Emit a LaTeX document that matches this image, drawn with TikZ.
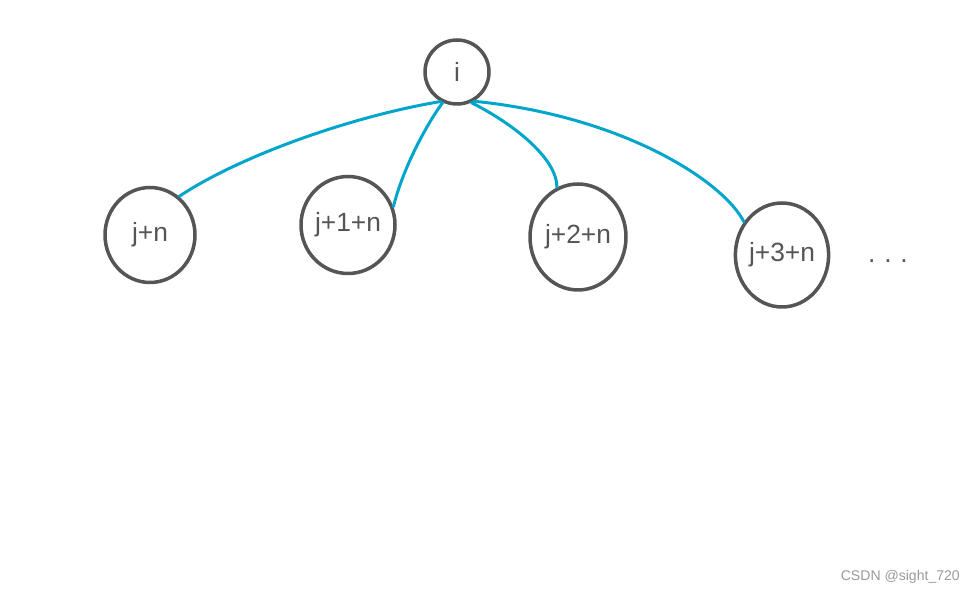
\documentclass[tikz,border=0pt]{standalone}
\usepackage{fontspec}
\setmainfont{Liberation Sans}
\usetikzlibrary{shapes.geometric}
\definecolor{ink}{HTML}{555555}
\definecolor{wire}{HTML}{00A5CC}
\definecolor{wmark}{HTML}{9A9A9A}
\tikzset{
  bubble/.style={ellipse, draw=ink, line width=2pt, inner sep=0pt, text=ink,
    font=\fontsize{15}{18}\selectfont},
  link/.style={draw=wire, line width=1.7pt, line cap=round},
}
\begin{document}
\begin{tikzpicture}[x=0.02cm,y=-0.02cm]
\useasboundingbox (0,0) rectangle (980,594);
\node[bubble, minimum width=1.28cm, minimum height=1.28cm] (i) at (457,72) {i};
\node[bubble, minimum width=1.80cm, minimum height=1.90cm] (jn) at (150,235) {j+n};
\node[bubble, minimum width=1.88cm, minimum height=1.94cm] (j1n) at (348,225) {j+1+n};
\node[bubble, minimum width=1.92cm, minimum height=2.12cm] (j2n) at (578,237) {j+2+n};
\node[bubble, minimum width=1.76cm, minimum height=2.08cm] (j3n) at (782,255) {j+3+n};
\node[text=ink, font=\fontsize{15}{18}\selectfont] (dots) at (888,261) {.\hspace{5pt}.\hspace{5pt}.};
\node[text=wmark, font=\fontsize{8}{10}\selectfont, anchor=east] (wm) at (966,577) {CSDN @sight\_720};
\draw[link] (i.241) .. controls +(-90,15) and +(60,-40) .. (jn.53);
\draw[link] (i.245) .. controls +(-15,20) and +(10,-40) .. (j1n.22);
\draw[link] (i.295) .. controls +(40,20) and +(0,-30) .. (j2n.113);
\draw[link] (i.300) .. controls +(150,15) and +(-20,-40) .. (j3n.139);
\end{tikzpicture}
\end{document}
